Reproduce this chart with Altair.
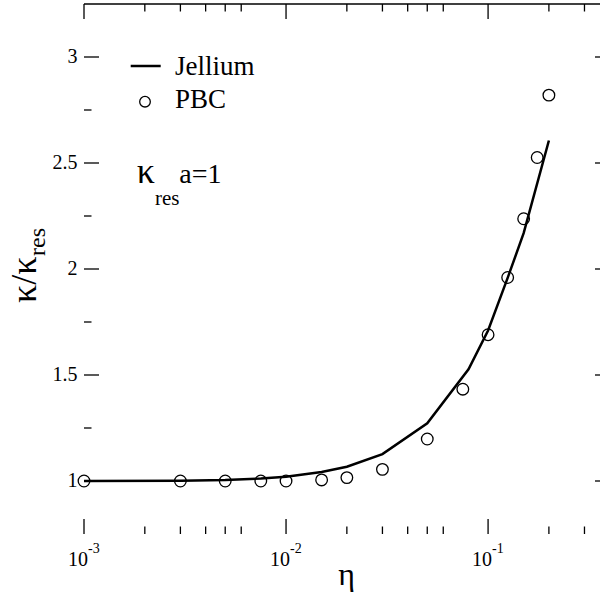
import altair as alt
import pandas as pd

# ---- data ----
eta_jellium = [0.001, 0.003, 0.005, 0.0075, 0.01, 0.015, 0.02, 0.03, 0.05, 0.08, 0.1, 0.125, 0.15, 0.2]
kappa_jellium = [1.0, 1.001, 1.005, 1.012, 1.02, 1.042, 1.067, 1.127, 1.272, 1.527, 1.71, 1.958, 2.169, 2.606]

eta_pbc = [0.001, 0.003, 0.005, 0.0075, 0.01, 0.015, 0.02, 0.03, 0.05, 0.075, 0.1, 0.125, 0.15, 0.175, 0.2]
kappa_pbc = [1.0, 1.0, 1.0, 1.0, 1.0, 1.005, 1.016, 1.055, 1.198, 1.433, 1.69, 1.96, 2.237, 2.526, 2.82]

x_major = [0.001, 0.01, 0.1]
x_major_exp = ["-3", "-2", "-1"]
x_minor = [0.002, 0.003, 0.004, 0.005, 0.006,
           0.02, 0.03, 0.04, 0.05, 0.06,
           0.2, 0.3]
y_major = [1, 1.5, 2, 2.5, 3]
y_major_labels = ["1", "1.5", "2", "2.5", "3"]
y_minor = [1.25, 1.75, 2.25, 2.75]

W, H = 515, 530
FONT = "Liberation Serif"

xscale = alt.Scale(type="log", domain=[0.001, 0.354], nice=False)
yscale = alt.Scale(domain=[0.75, 3.25], nice=False, zero=False)

df_j = pd.DataFrame({"eta": eta_jellium, "k": kappa_jellium})
df_p = pd.DataFrame({"eta": eta_pbc, "k": kappa_pbc})
df_xmaj = pd.DataFrame({"v": x_major, "e": x_major_exp})
df_xmin = pd.DataFrame({"v": x_minor})
df_ymaj = pd.DataFrame({"v": y_major, "t": y_major_labels})
df_ymin = pd.DataFrame({"v": y_minor})
one = pd.DataFrame({"a": [0]})

line = alt.Chart(df_j).mark_line(color="black", strokeWidth=2.5).encode(
    x=alt.X("eta:Q", scale=xscale,
            axis=alt.Axis(labels=False, ticks=False, grid=False, title=None,
                          domainColor="black", domainWidth=1.5)),
    y=alt.Y("k:Q", scale=yscale,
            axis=alt.Axis(labels=False, ticks=False, grid=False, title=None,
                          domainColor="black", domainWidth=1.5)),
)

pts = alt.Chart(df_p).mark_point(shape="circle", filled=False, color="black",
                                 size=135, strokeWidth=1.3, opacity=1).encode(
    x=alt.X("eta:Q", scale=xscale, axis=None),
    y=alt.Y("k:Q", scale=yscale, axis=None),
)

def xticks(df, length):
    b = alt.Chart(df).mark_rule(color="black", strokeWidth=1.3).encode(
        x=alt.X("v:Q", scale=xscale, axis=None), y=alt.value(H), y2=alt.value(H - length))
    t = alt.Chart(df).mark_rule(color="black", strokeWidth=1.3).encode(
        x=alt.X("v:Q", scale=xscale, axis=None), y=alt.value(0), y2=alt.value(length))
    return [b, t]

def yticks_left(df, length):
    return alt.Chart(df).mark_rule(color="black", strokeWidth=1.3).encode(
        y=alt.Y("v:Q", scale=yscale, axis=None), x=alt.value(0), x2=alt.value(length))

yt_right = alt.Chart(df_ymaj).mark_rule(color="black", strokeWidth=1.3).encode(
    y=alt.Y("v:Q", scale=yscale, axis=None), x=alt.value(W - 4), x2=alt.value(W + 1))

top_border = alt.Chart(one).mark_rule(color="black", strokeWidth=1.5).encode(
    x=alt.value(0), x2=alt.value(W + 1), y=alt.value(0))

ylabels = alt.Chart(df_ymaj).mark_text(font=FONT, fontSize=20, align="right", baseline="middle",
                                       color="black").encode(
    y=alt.Y("v:Q", scale=yscale, axis=None), x=alt.value(-6.5), text="t:N")

xlab10 = alt.Chart(df_xmaj).mark_text(font=FONT, fontSize=20, align="right", baseline="alphabetic",
                                      dx=4, color="black").encode(
    x=alt.X("v:Q", scale=xscale, axis=None), y=alt.value(561.7), text=alt.value("10"))
xlabexp = alt.Chart(df_xmaj).mark_text(font=FONT, fontSize=14, align="left", baseline="alphabetic",
                                       dx=4, color="black").encode(
    x=alt.X("v:Q", scale=xscale, axis=None), y=alt.value(549), text="e:N")

def txt(s, x, y, size, angle=0, align="left"):
    m = dict(font=FONT, fontSize=size, align=align, baseline="alphabetic", color="black")
    if angle:
        m["angle"] = angle
    return alt.Chart(one).mark_text(**m).encode(x=alt.value(x), y=alt.value(y), text=alt.value(s))

xtitle = txt("η", 262.7, 581, 32, align="center")
ytitle1 = txt("κ/κ", -48, 299, 36, angle=270)
ytitle2 = txt("res", -39, 252, 24, angle=270)

ann1 = txt("κ", 52.7, 179.3, 36)
ann2 = txt("res", 71, 201, 21)
ann3 = txt("a=1", 95.3, 179.3, 28)

leg_line = alt.Chart(one).mark_rule(color="black", strokeWidth=2.5).encode(
    x=alt.value(46.7), x2=alt.value(76.7), y=alt.value(62))
leg_pt = alt.Chart(one).mark_point(shape="circle", filled=False, color="black",
                                   size=113, strokeWidth=1.3, opacity=1).encode(
    x=alt.value(61), y=alt.value(97.7))
leg_t1 = txt("Jellium", 91, 71, 27)
leg_t2 = txt("PBC", 91, 104.3, 27)

layers = [line, pts] + xticks(df_xmaj, 15) + xticks(df_xmin, 7.5) + [
    yticks_left(df_ymaj, 15), yticks_left(df_ymin, 7.5), yt_right, top_border, ylabels,
    xlab10, xlabexp, xtitle, ytitle1, ytitle2, ann1, ann2, ann3,
    leg_line, leg_pt, leg_t1, leg_t2]

chart = alt.layer(*layers).properties(
    width=W, height=H,
    autosize=alt.AutoSizeParams(type="none"),
    padding={"left": 84, "top": 4, "right": 1, "bottom": 65},
    background="white",
).configure_view(stroke=None)

chart.save("out.html", embed_options={"renderer": "svg", "actions": False})
